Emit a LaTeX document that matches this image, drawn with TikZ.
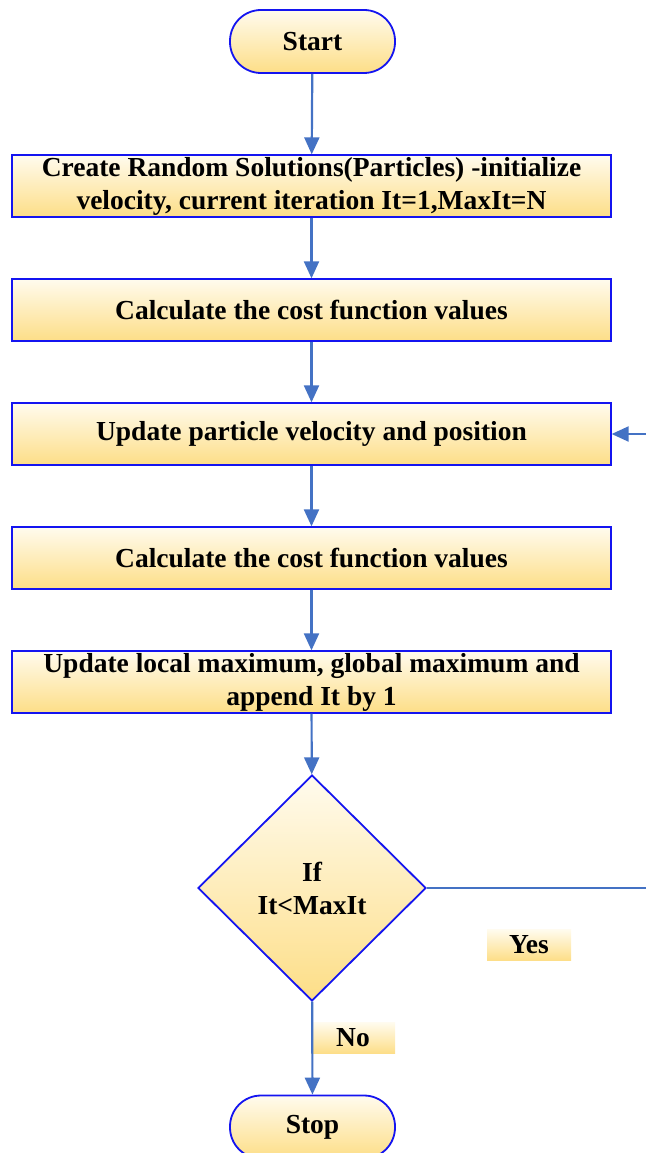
\documentclass[tikz,border=0pt]{standalone}
\usepackage{fontspec}
\setmainfont{Liberation Serif}
\usetikzlibrary{arrows.meta,shapes.geometric}
\definecolor{bord}{RGB}{20,20,240}
\definecolor{conn}{RGB}{68,114,196}
\definecolor{gtop}{RGB}{255,251,238}
\definecolor{gbot}{RGB}{253,222,135}
\tikzset{
  fillg/.style={top color=gtop, bottom color=gbot},
  txt/.style={font=\bfseries\fontsize{27.5}{33}\selectfont},
  procbox/.style={draw=bord, line width=1.3pt, fillg, minimum width=599pt, minimum height=62pt, inner sep=0pt, align=center, txt},
  termbox/.style={draw=bord, line width=1.8pt, fillg, minimum width=165pt, minimum height=63pt, rounded corners=31pt, inner sep=0pt, txt},
  decbox/.style={draw=bord, line width=1.8pt, fillg, diamond, minimum width=228pt, minimum height=226pt, inner sep=0pt, align=center, txt},
  lblbox/.style={fillg, minimum width=84pt, minimum height=31pt, inner sep=0pt, txt},
  conn/.style={draw=conn, line width=2.2pt, -{Triangle[width=15pt,length=17pt]}},
  plain/.style={draw=conn, line width=2.2pt},
}
\begin{document}
\begin{tikzpicture}[x=1pt,y=-1pt]
\useasboundingbox (0,0) rectangle (645,1153);
\node[termbox] (start) at (312.5,41.5) {Start};
\node[procbox] (b1) at (311.5,186) {Create Random Solutions(Particles) -initialize\\velocity, current iteration It=1,MaxIt=N};
\node[procbox] (b2) at (311.5,310) {Calculate the cost function values};
\node[procbox] (b3) at (311.5,434) {Update particle velocity and position};
\node[procbox] (b4) at (311.5,558) {Calculate the cost function values};
\node[procbox] (b5) at (311.5,682) {Update local maximum, global maximum and\\append It by 1};
\node[decbox] (dec) at (312,888) {If\\It<MaxIt};
\node[termbox] (stop) at (312.5,1127) {Stop};
\node[lblbox] (yes) at (529,945) {Yes};
\node[lblbox] (no) at (353,1038) {No};
\coordinate (r1) at (665,888);
\coordinate (r2) at (665,434);
\draw[conn] (start) -- (b1);
\draw[conn] (b1) -- (b2);
\draw[conn] (b2) -- (b3);
\draw[conn] (b3) -- (b4);
\draw[conn] (b4) -- (b5);
\draw[conn] (b5) -- (dec);
\draw[conn] (dec) -- (stop);
\draw[plain] (dec.east) -- (r1) -- (r2);
\draw[conn] (r2) -- (b3.east);
\end{tikzpicture}
\end{document}
